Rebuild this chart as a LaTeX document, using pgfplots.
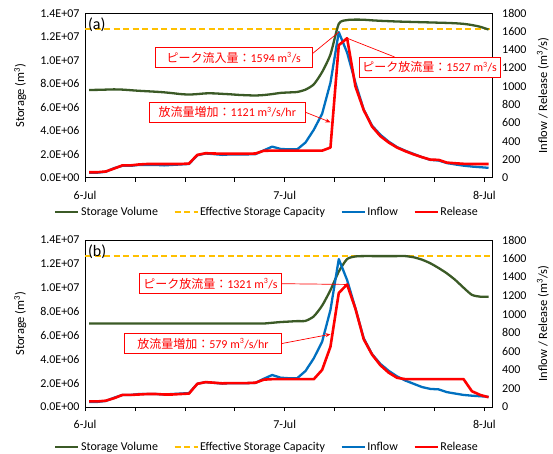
\documentclass[border=0pt]{standalone}
\usepackage{fontspec}
\setmainfont{Carlito}
\newfontfamily\jp{Noto Sans CJK JP}
\usepackage{pgfplots}
\pgfplotsset{compat=1.18}
\usepackage{pgfplotstable}
\usetikzlibrary{arrows.meta}
\definecolor{sgreen}{HTML}{3B5A26}
\definecolor{cgold}{HTML}{FFC000}
\definecolor{iblue}{HTML}{0070C0}
\definecolor{rred}{HTML}{FF0000}

\pgfplotstableread{
x inflow release storage
0.5 55 60 7.47e6
1.5 55 60 7.48e6
2.5 65 68 7.50e6
3.5 105 100 7.52e6
4.5 130 135 7.50e6
5.5 130 135 7.45e6
6.5 140 145 7.40e6
7.5 140 150 7.36e6
8.5 140 150 7.32e6
9.5 135 150 7.27e6
10.5 140 150 7.20e6
11.5 145 150 7.12e6
12.5 150 155 7.08e6
13.5 245 250 7.12e6
14.5 265 268 7.18e6
15.5 258 265 7.18e6
16.5 250 262 7.14e6
17.5 255 262 7.10e6
18.5 255 262 7.05e6
19.5 255 262 7.02e6
20.5 258 265 7.00e6
21.5 300 295 7.04e6
22.5 340 296 7.12e6
23.5 315 296 7.22e6
24.5 310 296 7.26e6
25.5 310 296 7.30e6
26.5 385 296 7.50e6
27.5 525 296 7.95e6
28.5 700 296 9.00e6
29.5 1040 330 1.050e7
30.5 1594 1451 1.310e7
31.5 1370 1527 1.342e7
32.5 1040 1000 1.346e7
33.5 745 740 1.345e7
34.5 570 560 1.340e7
35.5 470 455 1.336e7
36.5 395 385 1.333e7
37.5 335 330 1.330e7
38.5 295 290 1.328e7
39.5 260 255 1.326e7
40.5 225 225 1.324e7
41.5 195 198 1.322e7
42.5 188 195 1.320e7
43.5 160 165 1.318e7
44.5 145 158 1.315e7
45.5 132 152 1.310e7
46.5 122 150 1.300e7
47.5 115 150 1.285e7
48.5 108 150 1.262e7
}\dataA

\pgfplotstableread{
x inflow release storage
0.5 55 60 7.0e6
1.5 55 60 7.0e6
2.5 65 68 7.0e6
3.5 100 95 7.0e6
4.5 130 130 7.0e6
5.5 130 130 7.0e6
6.5 140 135 7.0e6
7.5 140 140 7.0e6
8.5 140 140 7.0e6
9.5 135 135 7.0e6
10.5 140 135 7.0e6
11.5 145 140 7.0e6
12.5 150 145 7.0e6
13.5 250 250 7.0e6
14.5 268 268 7.0e6
15.5 260 262 7.0e6
16.5 252 255 7.0e6
17.5 257 258 7.0e6
18.5 257 258 7.0e6
19.5 257 258 7.0e6
20.5 260 262 7.0e6
21.5 305 295 7.0e6
22.5 345 300 7.06e6
23.5 316 300 7.12e6
24.5 310 300 7.16e6
25.5 310 300 7.20e6
26.5 388 300 7.22e6
27.5 525 300 7.60e6
28.5 704 400 8.50e6
29.5 1046 650 9.80e6
30.5 1594 1229 1.135e7
31.5 1369 1321 1.240e7
32.5 1064 1060 1.262e7
33.5 740 730 1.265e7
34.5 570 565 1.265e7
35.5 465 450 1.265e7
36.5 390 370 1.265e7
37.5 330 315 1.265e7
38.5 285 300 1.265e7
39.5 250 300 1.255e7
40.5 215 300 1.235e7
41.5 195 300 1.205e7
42.5 190 300 1.165e7
43.5 160 300 1.120e7
44.5 145 300 1.065e7
45.5 130 300 1.000e7
46.5 122 170 9.40e6
47.5 116 130 9.25e6
48.5 110 105 9.25e6
}\dataB

\tikzset{
  box/.style={draw=rred, line width=0.7pt, fill=white, text=rred, font=\fontsize{12}{14}\selectfont,
    minimum height=20pt, inner sep=2pt, anchor=west},
}
\pgfplotsset{
  common/.style={
    scale only axis, width=407.7pt, anchor=south west,
    xmin=0, xmax=49,
    font=\fontsize{12}{14}\selectfont,
    tick label style={font=\fontsize{12}{14}\selectfont},
    label style={font=\fontsize{12.5}{15}\selectfont},
  },
  leftax/.style={common,
    ymin=0, ymax=14000000, scaled y ticks=false,
    ytick={0,2000000,4000000,6000000,8000000,10000000,12000000,14000000},
    yticklabels={0.0E+00,2.0E+06,4.0E+06,6.0E+06,8.0E+06,1.0E+07,1.2E+07,1.4E+07},
    ytick style={draw=none},
    xtick={0,6,...,48},
    xticklabels={6-Jul,,,,7-Jul,,,,8-Jul},
    xtick pos=left, xtick align=outside, major tick length=4pt,
    xtick style={black, line width=0.6pt},
    xticklabel style={yshift=-6pt},
    yticklabel style={xshift=-2pt},
    axis line style={black, line width=0.6pt},
    ylabel={Storage (m\textsuperscript{3})},
    ylabel style={at={(axis description cs:-0.159,0.5)}, anchor=center},
  },
  rightax/.style={common, clip=false,
    ymin=0, ymax=1800, ytick={0,200,...,1800},
    axis y line*=right, axis x line=none,
    ytick style={draw=none},
    axis line style={black, line width=0.6pt},
    yticklabel style={xshift=6pt},
    /pgf/number format/assume math mode=true,
    /pgf/number format/set thousands separator={},
    ylabel={Inflow / Release (m\textsuperscript{3}/s)},
    ylabel style={at={(axis description cs:1.123,0.5)}, anchor=center},
    legend columns=4,
    legend style={draw=none, fill=none, font=\fontsize{12}{14}\selectfont,
      /tikz/every even column/.append style={column sep=14pt},
      nodes={inner sep=1.5pt}},
    legend image code/.code={\draw[#1] (0pt,0pt) -- (23pt,0pt);},
  },
}

\begin{document}
\begin{tikzpicture}
\path[use as bounding box] (0pt,0pt) rectangle (553pt,454pt);
% ---------------- panel (a)
\begin{axis}[leftax, at={(85pt,276.3pt)}, height=164.4pt]
\addplot[cgold, line width=2pt, dash pattern=on 6pt off 3.5pt] coordinates {(0,12680000) (49,12680000)};
\addplot[sgreen, line width=2.3pt, smooth, tension=0.4] table[x=x, y=storage] {\dataA};
\node[anchor=north west, inner sep=0pt, font=\fontsize{16}{19}\selectfont] at (axis description cs:0.007,0.975) {(a)};
\end{axis}
\begin{axis}[rightax, at={(85pt,276.3pt)}, height=164.4pt,
  legend style={at={(axis description cs:0.446,-0.209)}, anchor=center}]
\addlegendimage{sgreen, line width=2.3pt}
\addlegendentry{Storage Volume}
\addlegendimage{cgold, line width=2pt, dash pattern=on 6pt off 3.5pt}
\addlegendentry{Effective Storage Capacity}
\addplot[iblue, line width=2.3pt, line join=round] table[x=x, y=inflow] {\dataA};
\addlegendentry{Inflow}
\addplot[rred, line width=2.6pt, line join=round] table[x=x, y=release] {\dataA};
\addlegendentry{Release}
\node[box, minimum width=157pt] (b1) at (axis cs:8.4,1316) {{\jp ピーク流入量：}1594 m\textsuperscript{3}/s};
\draw[rred, line width=0.7pt] ([yshift=4pt]b1.east) -- (axis cs:30.5,1594);
\node[box, minimum width=141pt] (b2) at (axis cs:32.9,1209) {{\jp ピーク放流量：}1527 m\textsuperscript{3}/s};
\draw[rred, line width=0.7pt] ([xshift=35.7pt]b2.north west) -- (axis cs:31.5,1527);
\node[box, minimum width=156pt] (b3) at (axis cs:7.68,716) {{\jp 放流量増加：}1121 m\textsuperscript{3}/s/hr};
\draw[rred, line width=0.7pt, -{Stealth[length=5pt,width=4pt]}] (b3.east) -- (axis cs:29.5,607);
\end{axis}
% ---------------- panel (b)
\begin{axis}[leftax, at={(85pt,47pt)}, height=167pt]
\addplot[cgold, line width=2pt, dash pattern=on 6pt off 3.5pt] coordinates {(0,12680000) (49,12680000)};
\addplot[sgreen, line width=2.3pt, smooth, tension=0.4] table[x=x, y=storage] {\dataB};
\node[anchor=north west, inner sep=0pt, font=\fontsize{16}{19}\selectfont] at (axis description cs:0.007,0.975) {(b)};
\end{axis}
\begin{axis}[rightax, at={(85pt,47pt)}, height=167pt,
  legend style={at={(axis description cs:0.446,-0.240)}, anchor=center}]
\addlegendimage{sgreen, line width=2.3pt}
\addlegendentry{Storage Volume}
\addlegendimage{cgold, line width=2pt, dash pattern=on 6pt off 3.5pt}
\addlegendentry{Effective Storage Capacity}
\addplot[iblue, line width=2.3pt, line join=round] table[x=x, y=inflow] {\dataB};
\addlegendentry{Inflow}
\addplot[rred, line width=2.6pt, line join=round] table[x=x, y=release] {\dataB};
\addlegendentry{Release}
\node[box, minimum width=142pt] (b4) at (axis cs:6.5,1329) {{\jp ピーク放流量：}1321 m\textsuperscript{3}/s};
\draw[rred, line width=0.7pt] (b4.east) -- (axis cs:31.5,1321);
\node[box, minimum width=157pt] (b5) at (axis cs:4.7,684) {{\jp 放流量増加：}579 m\textsuperscript{3}/s/hr};
\draw[rred, line width=0.7pt, -{Stealth[length=5pt,width=4pt]}] (b5.east) -- (axis cs:29.5,784);
\end{axis}
\end{tikzpicture}
\end{document}
